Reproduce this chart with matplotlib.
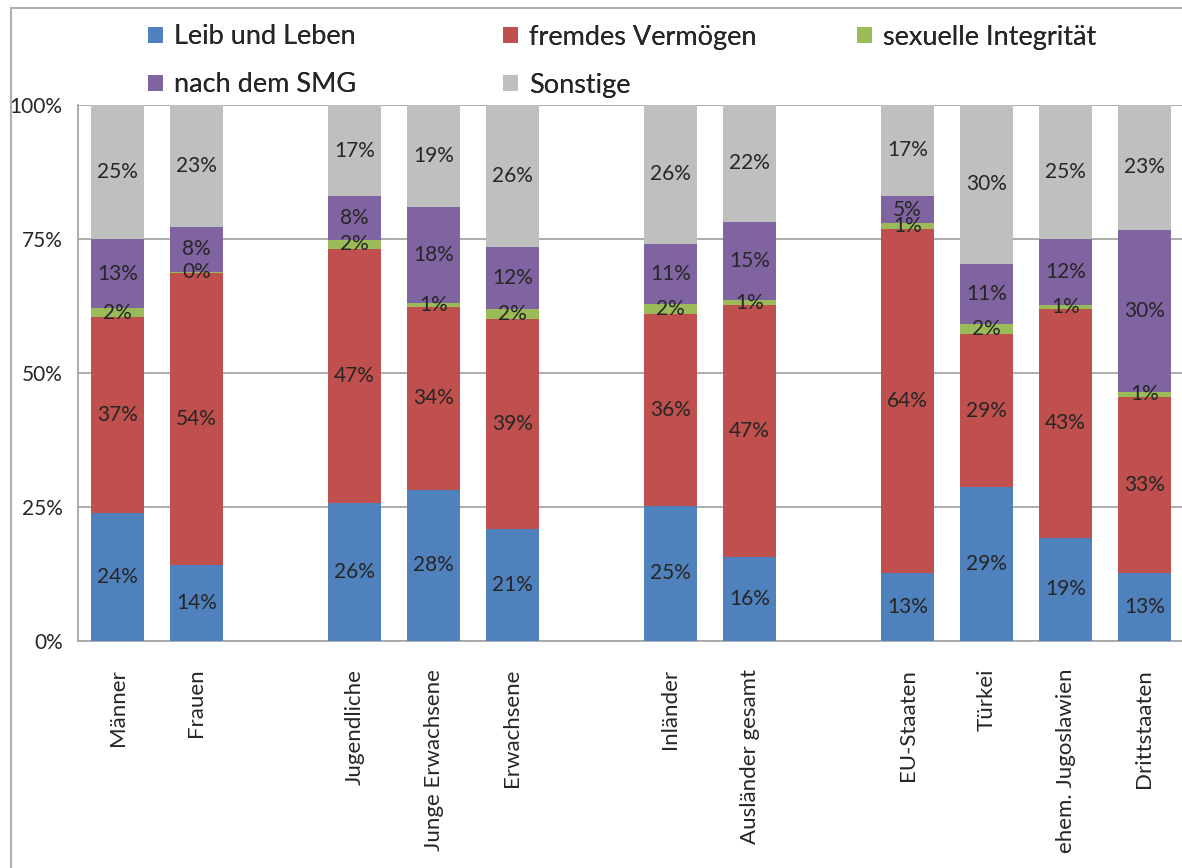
import numpy as np
import matplotlib
matplotlib.use("Agg")
import matplotlib.pyplot as plt
from matplotlib.patches import Patch, Rectangle

plt.rcParams['font.family'] = ['Lato', 'DejaVu Sans']

# groups of categories (an empty slot separates the groups)
groups = [
    ['Männer', 'Frauen'],
    ['Jugendliche', 'Junge Erwachsene', 'Erwachsene'],
    ['Inländer', 'Ausländer gesamt'],
    ['EU-Staaten', 'Türkei', 'ehem. Jugoslawien', 'Drittstaaten'],
]

series = ['Leib und Leben', 'fremdes Vermögen', 'sexuelle Integrität',
          'nach dem SMG', 'Sonstige']

# shares in percent, one value per category (order as in groups)
leib = [23.8, 14.2, 25.8, 28.2, 20.9, 25.2, 15.7, 12.6, 28.7, 19.3, 12.6]
vermoegen = [36.6, 54.4, 47.4, 34.1, 39.2, 35.8, 47.0, 64.3, 28.6, 42.6, 32.9]
sexuell = [1.7, 0.3, 1.6, 0.8, 1.8, 1.9, 0.9, 1.0, 1.9, 0.8, 1.0]
smg = [12.9, 8.3, 8.2, 17.9, 11.7, 11.2, 14.6, 5.2, 11.2, 12.3, 30.2]
sonstige = [25.0, 22.8, 17.0, 19.0, 26.4, 25.9, 21.8, 16.9, 29.6, 25.0, 23.3]

colors = ['#4F81BD', '#C0504D', '#9BBB59', '#8064A2', '#BFBFBF']
text_col = '#262626'
grid_col = '#A6A6A6'

# x positions: one free slot between groups
labels = []
xpos = []
slot = 0
for g in groups:
    for name in g:
        labels.append(name)
        xpos.append(slot)
        slot += 1
    slot += 1
xpos = np.array(xpos)

W, H = 1182, 868
fig = plt.figure(figsize=(W / 100, H / 100), dpi=100)
ax = fig.add_axes([78 / W, 1 - 641 / H, (1184 - 78) / W, (641 - 105) / H])

data = [leib, vermoegen, sexuell, smg, sonstige]
bottom = np.zeros(len(labels))
for vals, col, name in zip(data, colors, series):
    v = np.array(vals) / 100.0
    bars = ax.bar(xpos, v, 0.66, bottom=bottom, color=col, label=name,
                  zorder=3)
    txts = ax.bar_label(bars, labels=['{:.0f}%'.format(x) for x in vals],
                        label_type='center', fontsize=15, color=text_col)
    for t in txts:
        t.set_zorder(10)
    bottom += v

ax.set_xlim(-0.5, 13.5)
ax.set_ylim(0, 1)
ax.set_yticks([0, 0.25, 0.5, 0.75, 1.0])
ax.set_yticklabels(['0%', '25%', '50%', '75%', '100%'])
ax.set_xticks(xpos)
ax.set_xticklabels(labels, rotation=90, fontsize=16, color=text_col)
ax.tick_params(axis='y', length=0, pad=11, labelsize=15, labelcolor=text_col)
ax.tick_params(axis='x', length=0, pad=20)
ax.yaxis.grid(True, color=grid_col, lw=1.3, zorder=0)
ax.set_axisbelow(True)
for s in ['top', 'right']:
    ax.spines[s].set_visible(False)
for s in ['left', 'bottom']:
    ax.spines[s].set_color(grid_col)
    ax.spines[s].set_linewidth(1.3)

# legend entries laid out like the Excel legend (3 columns, 2 rows)
leg_x = [148, 503, 857, 148, 503]
leg_y = [37, 37, 37, 85, 85]
for name, col, lx, ly in zip(series, colors, leg_x, leg_y):
    lg = fig.legend(handles=[Patch(facecolor=col, label=name)],
                    loc='center left', bbox_to_anchor=(lx / W, 1 - ly / H),
                    frameon=False, fontsize=19.5, handlelength=0.55,
                    handleheight=0.55, handletextpad=0.4, borderpad=0,
                    borderaxespad=0, labelcolor=text_col)
    fig.add_artist(lg)

# chart area border
fig.add_artist(Rectangle((11 / W, -0.1), 1.2, 1 - 8 / H + 0.1,
                         transform=fig.transFigure, fill=False,
                         edgecolor='#B0B0B0', lw=1.5))

fig.savefig('out.png', dpi=100)
